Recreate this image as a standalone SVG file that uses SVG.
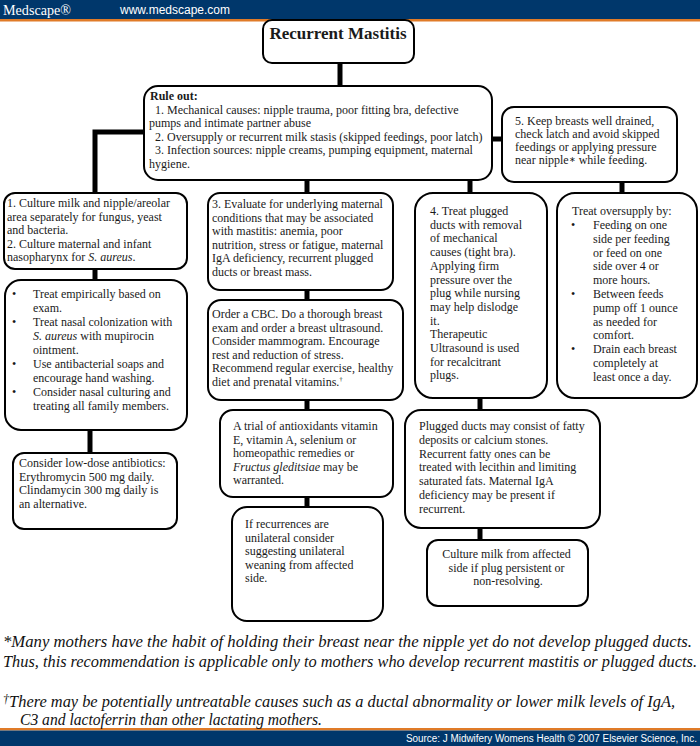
<svg xmlns="http://www.w3.org/2000/svg" width="700" height="746" viewBox="0 0 700 746">
<style>
.box{fill:#fff;stroke:#000;stroke-width:2}
.con{stroke:#000;stroke-width:5;fill:none}
.t{font-family:"Liberation Serif","Times New Roman",serif;font-size:12px;fill:#1a1a1a}
.b{font-weight:bold}
.i{font-style:italic}
.fn{font-family:"Liberation Serif","Times New Roman",serif;font-size:16px;font-style:italic;fill:#111}
.hd{font-family:"Liberation Sans",Arial,sans-serif;fill:#fff}
</style>
<rect x="0" y="0" width="700" height="19" fill="#00376b"/>
<rect x="0" y="19" width="700" height="2.5" fill="#e07b28"/>
<text class="hd" x="3" y="15" style="font-family:'Liberation Serif',serif;font-size:15px" textLength="68" lengthAdjust="spacingAndGlyphs">Medscape®</text>
<text class="hd" x="120" y="14" style="font-size:12.5px" textLength="110" lengthAdjust="spacingAndGlyphs">www.medscape.com</text>
<rect x="0" y="728" width="700" height="2.5" fill="#e07b28"/>
<rect x="0" y="730.5" width="700" height="15.5" fill="#00376b"/>
<text class="hd" x="697" y="741.5" style="font-size:10px" text-anchor="end" textLength="291" lengthAdjust="spacingAndGlyphs">Source: J Midwifery Womens Health © 2007 Elsevier Science, Inc.</text>

<g id="connectors">
<path class="con" d="M340,63V85"/>
<path class="con" d="M143,132H95V193"/>
<path class="con" d="M492,139H502"/>
<path class="con" d="M307,179V193"/>
<path class="con" d="M470,179V193"/>
<path class="con" d="M622,182V193"/>
<path class="con" d="M95,269V280"/>
<path class="con" d="M90,430V453"/>
<path class="con" d="M307,290V300"/>
<path class="con" d="M307,400V410"/>
<path class="con" d="M307,497V507"/>
<path class="con" d="M480,398V410"/>
<path class="con" d="M480,528V540"/>
</g>

<g id="title">
<rect class="box" x="263" y="20" width="151" height="43" rx="9"/>
<text class="t b" x="338" y="39" text-anchor="middle" style="font-size:17px">Recurrent Mastitis</text>
</g>

<g id="ruleout">
<rect class="box" x="144" y="86" width="348" height="94" rx="14"/>
<text class="t">
<tspan class="b" x="150" y="100">Rule out:</tspan>
<tspan x="155" y="114">1. Mechanical causes: nipple trauma, poor fitting bra, defective</tspan>
<tspan x="149" y="127">pumps and intimate partner abuse</tspan>
<tspan x="155" y="141">2. Oversupply or recurrent milk stasis (skipped feedings, poor latch)</tspan>
<tspan x="155" y="154">3. Infection sources: nipple creams, pumping equipment, maternal</tspan>
<tspan x="149" y="168">hygiene.</tspan>
</text>
</g>

<g id="box5">
<rect class="box" x="502" y="107" width="175" height="75" rx="12"/>
<text class="t">
<tspan x="515" y="125">5. Keep breasts well drained,</tspan>
<tspan x="515" y="138">check latch and avoid skipped</tspan>
<tspan x="515" y="151">feedings or applying pressure</tspan>
<tspan x="515" y="164">near nipple<tspan style="font-size:8px" dy="-2">∗</tspan><tspan dy="2"> while feeding.</tspan></tspan>
</text>
</g>

<g id="box1">
<rect class="box" x="4" y="193" width="183" height="76" rx="11"/>
<text class="t">
<tspan x="7" y="207">1. Culture milk and nipple/areolar</tspan>
<tspan x="7" y="220.5">area separately for fungus, yeast</tspan>
<tspan x="7" y="234">and bacteria.</tspan>
<tspan x="7" y="247.5">2. Culture maternal and infant</tspan>
<tspan x="7" y="261">nasopharynx for <tspan class="i">S. aureus</tspan>.</tspan>
</text>
</g>

<g id="box2">
<rect class="box" x="5" y="280" width="182" height="150" rx="16"/>
<text class="t">
<tspan x="12" y="298">•</tspan><tspan x="33" y="298">Treat empirically based on</tspan>
<tspan x="33" y="312">exam.</tspan>
<tspan x="12" y="326">•</tspan><tspan x="33" y="326">Treat nasal colonization with</tspan>
<tspan x="33" y="340"><tspan class="i">S. aureus</tspan> with mupirocin</tspan>
<tspan x="33" y="354">ointment.</tspan>
<tspan x="12" y="368">•</tspan><tspan x="33" y="368">Use antibacterial soaps and</tspan>
<tspan x="33" y="382">encourage hand washing.</tspan>
<tspan x="12" y="396">•</tspan><tspan x="33" y="396">Consider nasal culturing and</tspan>
<tspan x="33" y="410">treating all family members.</tspan>
</text>
</g>

<g id="lowdose">
<rect class="box" x="13" y="453" width="164" height="76" rx="11"/>
<text class="t">
<tspan x="19" y="467">Consider low-dose antibiotics:</tspan>
<tspan x="19" y="480.5">Erythromycin 500 mg daily.</tspan>
<tspan x="19" y="494">Clindamycin  300 mg daily is</tspan>
<tspan x="19" y="507.5">an alternative.</tspan>
</text>
</g>

<g id="box3">
<rect class="box" x="208" y="193" width="185" height="97" rx="12"/>
<text class="t">
<tspan x="212" y="208">3. Evaluate for underlying maternal</tspan>
<tspan x="212" y="221.5">conditions that may be associated</tspan>
<tspan x="212" y="235">with mastitis: anemia, poor</tspan>
<tspan x="212" y="248.5">nutrition, stress or fatigue, maternal</tspan>
<tspan x="212" y="262">IgA deficiency, recurrent plugged</tspan>
<tspan x="212" y="275.5">ducts or breast mass.</tspan>
</text>
</g>

<g id="cbc">
<rect class="box" x="208" y="300" width="195" height="100" rx="13"/>
<text class="t">
<tspan x="212" y="318">Order a CBC.  Do a thorough breast</tspan>
<tspan x="212" y="331.5">exam and order a breast ultrasound.</tspan>
<tspan x="212" y="345">Consider mammogram.  Encourage</tspan>
<tspan x="212" y="358.5">rest and reduction of stress.</tspan>
<tspan x="212" y="372">Recommend regular exercise, healthy</tspan>
<tspan x="212" y="385.5">diet and prenatal vitamins.<tspan style="font-size:7px" dy="-5">†</tspan></tspan>
</text>
</g>

<g id="antiox">
<rect class="box" x="220" y="410" width="173" height="87" rx="13"/>
<text class="t">
<tspan x="233" y="430">A trial of antioxidants vitamin</tspan>
<tspan x="233" y="443.5">E, vitamin A, selenium or</tspan>
<tspan x="233" y="457">homeopathic remedies or</tspan>
<tspan x="233" y="470.5"><tspan class="i">Fructus gleditsiae</tspan> may be</tspan>
<tspan x="233" y="484">warranted.</tspan>
</text>
</g>

<g id="unilateral">
<rect class="box" x="232" y="507" width="151" height="114" rx="15"/>
<text class="t">
<tspan x="245" y="528">If recurrences are</tspan>
<tspan x="245" y="541.5">unilateral consider</tspan>
<tspan x="245" y="555">suggesting unilateral</tspan>
<tspan x="245" y="568.5">weaning from affected</tspan>
<tspan x="245" y="582">side.</tspan>
</text>
</g>

<g id="box4">
<rect class="box" x="415" y="193" width="132" height="205" rx="18"/>
<text class="t">
<tspan x="430" y="215">4. Treat plugged</tspan>
<tspan x="430" y="228.7">ducts with removal</tspan>
<tspan x="430" y="242.4">of mechanical</tspan>
<tspan x="430" y="256.1">causes (tight bra).</tspan>
<tspan x="430" y="269.8">Applying firm</tspan>
<tspan x="430" y="283.5">pressure over the</tspan>
<tspan x="430" y="297.2">plug while nursing</tspan>
<tspan x="430" y="310.9">may help dislodge</tspan>
<tspan x="430" y="324.6">it.</tspan>
<tspan x="430" y="338.3">Therapeutic</tspan>
<tspan x="430" y="352">Ultrasound is used</tspan>
<tspan x="430" y="365.7">for recalcitrant</tspan>
<tspan x="430" y="379.4">plugs.</tspan>
</text>
</g>

<g id="plugged">
<rect class="box" x="405" y="410" width="195" height="118" rx="16"/>
<text class="t">
<tspan x="419" y="430">Plugged ducts may consist of fatty</tspan>
<tspan x="419" y="443.8">deposits or calcium stones.</tspan>
<tspan x="419" y="457.6">Recurrent fatty ones can be</tspan>
<tspan x="419" y="471.4">treated with lecithin and limiting</tspan>
<tspan x="419" y="485.2">saturated fats. Maternal IgA</tspan>
<tspan x="419" y="499">deficiency may be present if</tspan>
<tspan x="419" y="512.8">recurrent.</tspan>
</text>
</g>

<g id="culture">
<rect class="box" x="427" y="540" width="161" height="66" rx="11"/>
<text class="t" text-anchor="middle">
<tspan x="508" y="558">Culture milk from affected</tspan>
<tspan x="508" y="571.5">side if plug persistent or</tspan>
<tspan x="508" y="585">non-resolving.</tspan>
</text>
</g>

<g id="oversupply">
<rect class="box" x="557" y="193" width="140" height="205" rx="18"/>
<text class="t">
<tspan x="572" y="215">Treat oversupply by:</tspan>
<tspan x="571" y="229">•</tspan><tspan x="593" y="229">Feeding on one</tspan>
<tspan x="593" y="242.8">side per feeding</tspan>
<tspan x="593" y="256.6">or feed on one</tspan>
<tspan x="593" y="270.4">side over 4 or</tspan>
<tspan x="593" y="284.2">more hours.</tspan>
<tspan x="571" y="298">•</tspan><tspan x="593" y="298">Between feeds</tspan>
<tspan x="593" y="311.8">pump off 1 ounce</tspan>
<tspan x="593" y="325.6">as needed for</tspan>
<tspan x="593" y="339.4">comfort.</tspan>
<tspan x="571" y="353.2">•</tspan><tspan x="593" y="353.2">Drain each breast</tspan>
<tspan x="593" y="367">completely at</tspan>
<tspan x="593" y="380.8">least once a day.</tspan>
</text>
</g>

<g id="footnotes">
<text class="fn" x="3" y="647" textLength="689" lengthAdjust="spacingAndGlyphs">*Many mothers have the habit of holding their breast near the nipple yet do not develop plugged ducts.</text>
<text class="fn" x="3" y="667" textLength="694" lengthAdjust="spacingAndGlyphs">Thus, this recommendation is applicable only to mothers who develop recurrent mastitis or plugged ducts.</text>
<text class="fn" x="3" y="707" textLength="672" lengthAdjust="spacingAndGlyphs"><tspan style="font-size:12px" dy="-4">†</tspan><tspan dy="4">There may be potentially untreatable causes such as a ductal abnormality or lower milk levels of IgA,</tspan></text>
<text class="fn" x="20" y="725" textLength="302" lengthAdjust="spacingAndGlyphs">C3 and lactoferrin than other lactating mothers.</text>
</g>
</svg>
